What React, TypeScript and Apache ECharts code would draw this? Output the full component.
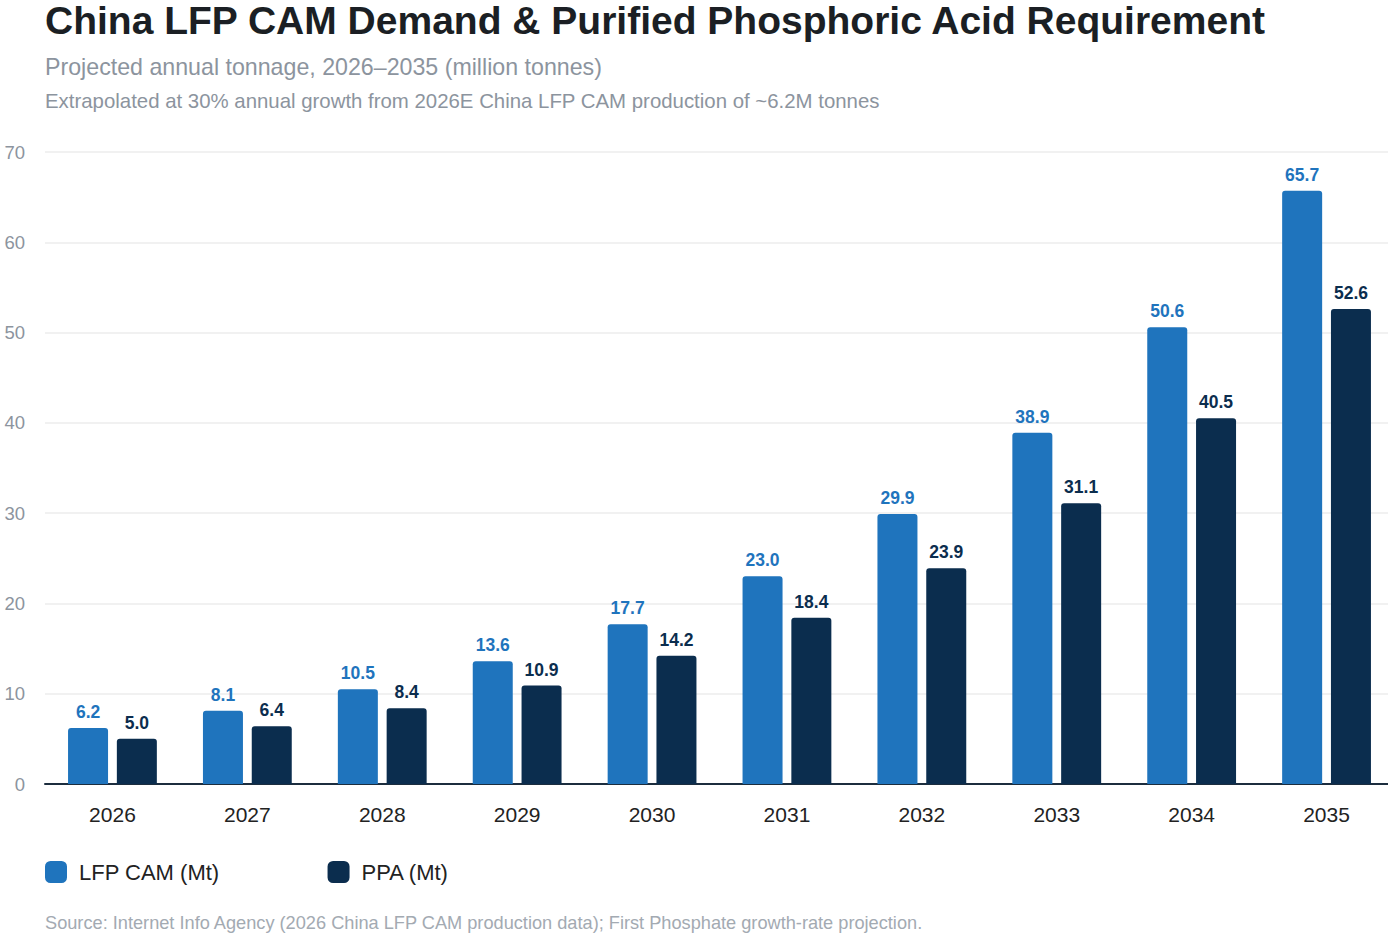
import React, { useEffect, useRef } from 'react';
import * as echarts from 'echarts';

const years = ['2026', '2027', '2028', '2029', '2030', '2031', '2032', '2033', '2034', '2035'];
const lfpCam = [6.2, 8.1, 10.5, 13.6, 17.7, 23.0, 29.9, 38.9, 50.6, 65.7];
const ppa = [5.0, 6.4, 8.4, 10.9, 14.2, 18.4, 23.9, 31.1, 40.5, 52.6];

const FONT = '"Liberation Sans", Arial, Helvetica, sans-serif';
const BLUE = '#1f74bd';
const NAVY = '#0b2d4e';

const App = () => {
  const chartRef = useRef<HTMLDivElement>(null);

  useEffect(() => {
    const chart = echarts.init(chartRef.current!, null, { renderer: 'svg' });

    const label = (color: string) => ({
      show: true,
      position: 'top',
      distance: 7,
      formatter: (p: any) => p.value.toFixed(1),
      fontSize: 17.5,
      fontWeight: 'bold',
      color,
      fontFamily: FONT
    });

    chart.setOption({
      animation: false,
      textStyle: { fontFamily: FONT },
      title: [
        {
          text: 'China LFP CAM Demand & Purified Phosphoric Acid Requirement',
          left: 45,
          top: 1,
          padding: 0,
          textStyle: { fontSize: 39, fontWeight: 'bold', color: '#1b1f24', fontFamily: FONT }
        },
        {
          text: 'Projected annual tonnage, 2026–2035 (million tonnes)',
          left: 45,
          top: 55,
          padding: 0,
          textStyle: { fontSize: 23.2, fontWeight: 'normal', color: '#8c949e', fontFamily: FONT }
        },
        {
          text: 'Extrapolated at 30% annual growth from 2026E China LFP CAM production of ~6.2M tonnes',
          left: 45,
          top: 91,
          padding: 0,
          textStyle: { fontSize: 20.4, fontWeight: 'normal', color: '#8c949e', fontFamily: FONT }
        },
        {
          text: 'Source: Internet Info Agency (2026 China LFP CAM production data); First Phosphate growth-rate projection.',
          left: 45,
          top: 914,
          padding: 0,
          textStyle: { fontSize: 18.2, fontWeight: 'normal', color: '#a3aab2', fontFamily: FONT }
        }
      ],
      legend: {
        left: 45,
        top: 861,
        padding: 0,
        itemWidth: 22,
        itemHeight: 22,
        itemGap: 108,
        icon: 'roundRect',
        textStyle: { fontSize: 22, color: '#222', fontFamily: FONT, padding: [0, 0, 0, 7] },
        data: ['LFP CAM (Mt)', 'PPA (Mt)']
      },
      grid: {
        left: 45,
        top: 152,
        width: 1349,
        bottom: 150,
        containLabel: false
      },
      xAxis: {
        type: 'category',
        data: years,
        axisLine: { show: true, lineStyle: { color: '#1c2d3e', width: 2 } },
        axisTick: { show: false },
        axisLabel: { fontSize: 21, color: '#222', margin: 20, fontFamily: FONT }
      },
      yAxis: {
        type: 'value',
        min: 0,
        max: 70,
        interval: 10,
        axisLine: { show: false },
        axisTick: { show: false },
        axisLabel: { fontSize: 18.5, color: '#8c949e', margin: 20, align: 'right', fontFamily: FONT },
        splitLine: { lineStyle: { color: '#ececec', width: 1.5 } }
      },
      series: [
        {
          name: 'LFP CAM (Mt)',
          type: 'bar',
          data: lfpCam,
          barWidth: 40,
          barGap: '22%',
          itemStyle: { color: BLUE, borderRadius: [3, 3, 0, 0] },
          label: label(BLUE)
        },
        {
          name: 'PPA (Mt)',
          type: 'bar',
          data: ppa,
          barWidth: 40,
          itemStyle: { color: NAVY, borderRadius: [3, 3, 0, 0] },
          label: label(NAVY)
        }
      ]
    });

    return () => {
      chart.dispose();
    };
  }, []);

  return (
    <div
      style={{ position: 'absolute', left: 0, top: 0, width: 1388, height: 934, overflow: 'hidden', background: '#fff' }}
    >
      <div ref={chartRef} style={{ width: 1396, height: 934 }}></div>
    </div>
  );
};

export default App;
